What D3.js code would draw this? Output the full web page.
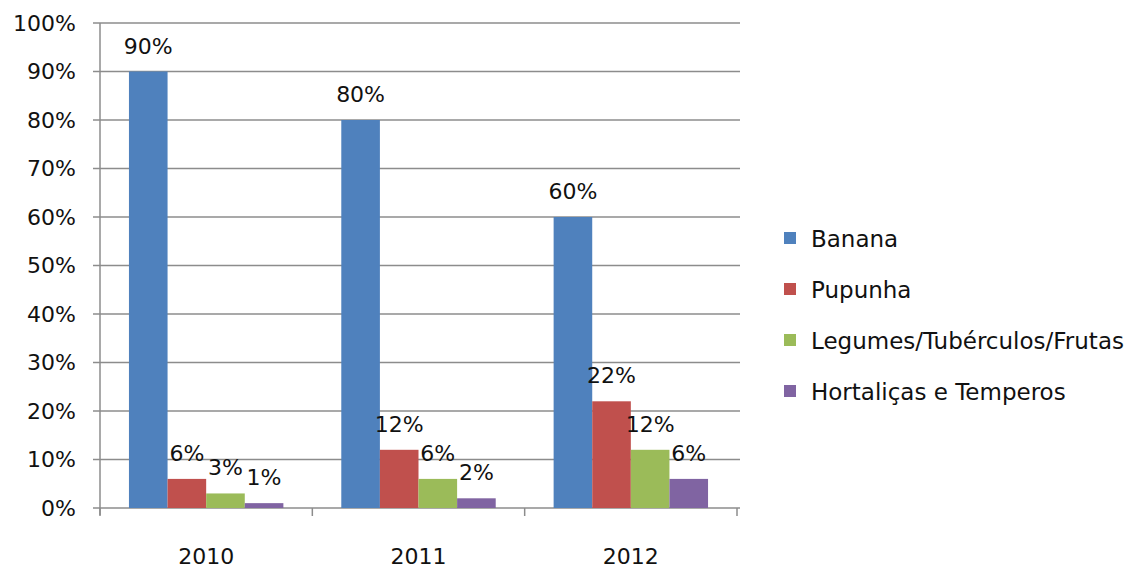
<!DOCTYPE html>
<html>
<head>
<meta charset="utf-8">
<script src="https://cdn.jsdelivr.net/npm/d3@7"></script>
<style>
  body { margin: 0; background: #fff; }
  text { font-family: "DejaVu Sans", "Open Sans", sans-serif; fill: #111; }
</style>
</head>
<body>
<svg id="chart" width="1144" height="569"></svg>
<script>
// dados
var years = ["2010", "2011", "2012"];
var seriesNames = ["Banana", "Pupunha", "Legumes/Tubérculos/Frutas", "Hortaliças e Temperos"];
var banana = [90, 80, 60];
var pupunha = [6, 12, 22];
var legumes = [3, 6, 12];
var hortalicas = [1, 2, 6];
var colours = ["#4f81bd", "#c0504d", "#9bbb59", "#8064a2"];
var yTicks = [0, 10, 20, 30, 40, 50, 60, 70, 80, 90, 100];

var seriesValues = [banana, pupunha, legumes, hortalicas];

var svg = d3.select("#chart");

var x = d3.scaleBand()
    .domain(years)
    .range([100, 737]);

var xInner = d3.scaleBand()
    .domain(seriesNames)
    .range([0, x.bandwidth()])
    .paddingInner(0)
    .paddingOuter(0.75);

var y = d3.scaleLinear()
    .domain([0, 100])
    .range([508, 23]);

//
//** grade e eixos **/
//

svg.append("g")
    .selectAll("line")
    .data(yTicks)
    .enter().append("line")
    .attr("x1", 93)
    .attr("x2", 740)
    .attr("y1", function(d) { return y(d); })
    .attr("y2", function(d) { return y(d); })
    .style("stroke", "#8c8c8c")
    .style("stroke-width", 1.5);

svg.append("g")
    .selectAll("text")
    .data(yTicks)
    .enter().append("text")
    .attr("x", 76)
    .attr("y", function(d) { return y(d); })
    .attr("dy", "0.36em")
    .style("text-anchor", "end")
    .style("font-size", "22px")
    .text(function(d) { return d + "%"; });

svg.append("line")
    .attr("x1", 100).attr("x2", 100)
    .attr("y1", y(100)).attr("y2", y(0) + 7)
    .style("stroke", "#8c8c8c")
    .style("stroke-width", 1.5);

var bounds = years.map(function(d) { return x(d); }).concat([x.range()[1]]);
svg.append("g")
    .selectAll("line")
    .data(bounds)
    .enter().append("line")
    .attr("x1", function(d) { return d; })
    .attr("x2", function(d) { return d; })
    .attr("y1", y(0))
    .attr("y2", y(0) + 8)
    .style("stroke", "#8c8c8c")
    .style("stroke-width", 1.5);

svg.append("g")
    .selectAll("text")
    .data(years)
    .enter().append("text")
    .attr("x", function(d) { return x(d) + x.bandwidth() / 2; })
    .attr("y", 564)
    .style("text-anchor", "middle")
    .style("font-size", "22px")
    .text(function(d) { return d; });

//
//** barras **/
//

var bars = [];
years.forEach(function(yr, i) {
  seriesNames.forEach(function(s, j) {
    bars.push({ year: yr, serie: s, value: seriesValues[j][i], colour: colours[j] });
  });
});

svg.append("g")
    .selectAll("rect")
    .data(bars)
    .enter().append("rect")
    .attr("x", function(d) { return x(d.year) + xInner(d.serie); })
    .attr("y", function(d) { return y(d.value); })
    .attr("width", xInner.bandwidth())
    .attr("height", function(d) { return y(0) - y(d.value); })
    .style("fill", function(d) { return d.colour; });

svg.append("g")
    .selectAll("text")
    .data(bars)
    .enter().append("text")
    .attr("x", function(d) { return x(d.year) + xInner(d.serie) + xInner.bandwidth() / 2; })
    .attr("y", function(d) { return y(d.value) - 18; })
    .style("text-anchor", "middle")
    .style("font-size", "22px")
    .text(function(d) { return d.value + "%"; });

//
//** legenda **/
//

var legend = svg.append("g")
    .selectAll("g")
    .data(seriesNames)
    .enter().append("g")
    .attr("transform", function(d, i) { return "translate(784," + (239 + i * 51) + ")"; });

legend.append("rect")
    .attr("x", 0)
    .attr("y", -7)
    .attr("width", 12)
    .attr("height", 12)
    .style("fill", function(d, i) { return colours[i]; });

legend.append("text")
    .attr("x", 27)
    .attr("y", 0)
    .attr("dy", "0.36em")
    .style("font-size", "23px")
    .text(function(d) { return d; });
</script>
</body>
</html>
